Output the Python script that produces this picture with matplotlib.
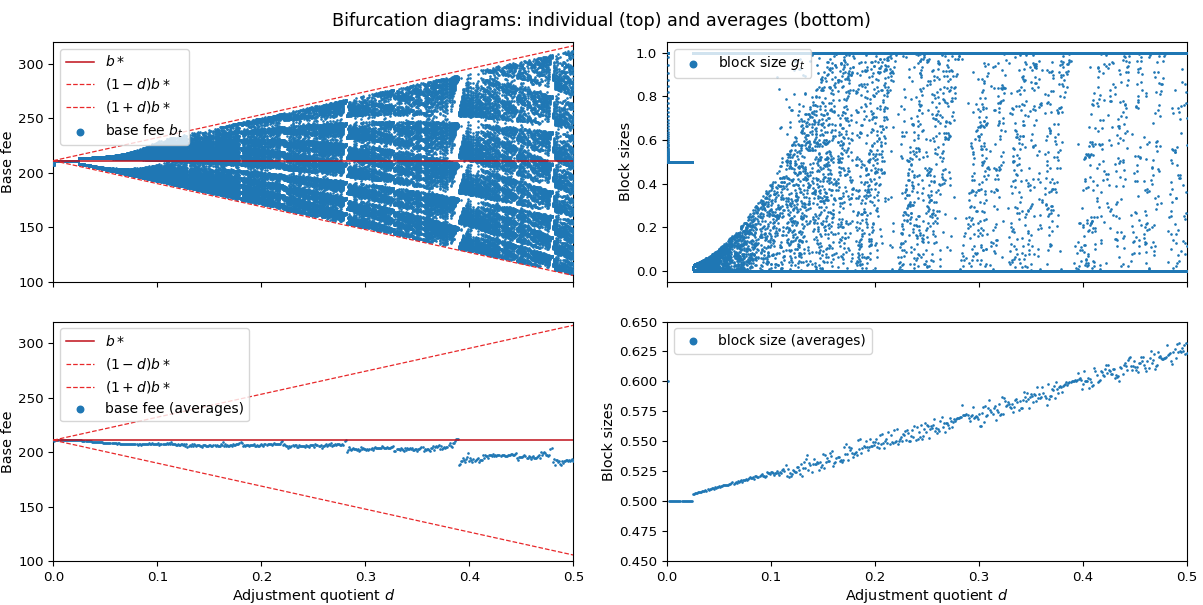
import numpy as np
import matplotlib
matplotlib.use('Agg')
import matplotlib.pyplot as plt

# model parameters
b_star = 211.0          # equilibrium base fee b*
target = 0.5            # target block size
demand_slope = 40.2     # block size drop per relative base fee change (bifurcation just below d = 0.025)
b_start = 100.0         # base fee every run starts from
n_burn = 727            # blocks dropped before recording
n_blocks = 100          # blocks recorded for every d
d_values = np.round(np.arange(1, 501) * 0.001, 3)
d_line = np.array([0.0, 0.5])

fee_ylim = (100, 320)
size_ylim = (-0.05, 1.05)
avg_size_ylim = (0.45, 0.65)


def block_size(b):
    return min(max(target - demand_slope * (b - b_star) / b_star, 0.0), 1.0)


# iterate the base fee update rule for every adjustment quotient d
fee_d, fee_pts, size_pts = [], [], []
fee_avg, size_avg = [], []
for d in d_values:
    b = b_start
    fees, sizes = [], []
    for t in range(n_burn + n_blocks):
        g = block_size(b)
        if t >= n_burn:
            fees.append(b)
            sizes.append(g)
        b = b * (1 + d * (g - target) / target)
    fee_d.extend([d] * n_blocks)
    fee_pts.extend(fees)
    size_pts.extend(sizes)
    fee_avg.append(np.mean(fees))
    size_avg.append(np.mean(sizes))

plt.rcParams['font.family'] = 'DejaVu Sans'
plt.rcParams['font.size'] = 10.4
plt.rcParams['xtick.labelsize'] = 9.6
plt.rcParams['ytick.labelsize'] = 9.6
plt.rcParams['legend.fontsize'] = 10

fig, axs = plt.subplots(2, 2, figsize=(12.03, 6.05), dpi=100, sharex=True)
fig.subplots_adjust(left=0.0443, right=0.9867, top=0.9306, bottom=0.0727, hspace=0.167, wspace=0.18)
fig.suptitle('Bifurcation diagrams: individual (top) and averages (bottom)', fontsize=12.7)

solid_red = '#c0101a'
dash_red = '#e8282a'
dot_blue = '#1f77b4'
dot_size = 0.8
legend_dot = 22


def fee_panel(ax, ys, xs, label):
    ax.plot(d_line, [b_star, b_star], color=solid_red, lw=1.1, label='$b*$')
    ax.plot(d_line, (1 - d_line) * b_star, '--', color=dash_red, lw=0.9, label='$(1-d)b*$')
    ax.plot(d_line, (1 + d_line) * b_star, '--', color=dash_red, lw=0.9, label='$(1+d)b*$')
    ax.scatter(xs, ys, s=dot_size, color=dot_blue, label=label, zorder=1.5)
    ax.set_ylim(*fee_ylim)
    ax.set_ylabel('Base fee', labelpad=2)
    leg = ax.legend(loc='upper left')
    leg.legend_handles[-1].set_sizes([legend_dot])


fee_panel(axs[0, 0], fee_pts, fee_d, 'base fee $b_t$')
fee_panel(axs[1, 0], fee_avg, d_values, 'base fee (averages)')

ax = axs[0, 1]
ax.scatter(fee_d, size_pts, s=dot_size, color=dot_blue, label='block size $g_t$', zorder=1.5)
ax.set_ylim(*size_ylim)
ax.set_ylabel('Block sizes', labelpad=2)
leg = ax.legend(loc='upper left')
leg.legend_handles[0].set_sizes([legend_dot])

ax = axs[1, 1]
ax.scatter(d_values, size_avg, s=dot_size, color=dot_blue, label='block size (averages)', zorder=1.5)
ax.set_ylim(*avg_size_ylim)
ax.set_ylabel('Block sizes', labelpad=2)
leg = ax.legend(loc='upper left')
leg.legend_handles[0].set_sizes([legend_dot])

for ax in axs.flat:
    ax.set_xlim(0, 0.5)
    for sp in ax.spines.values():
        sp.set_zorder(1)
for ax in axs[1]:
    ax.set_xlabel('Adjustment quotient $d$', labelpad=2)

fig.savefig('out.png', dpi=100)
